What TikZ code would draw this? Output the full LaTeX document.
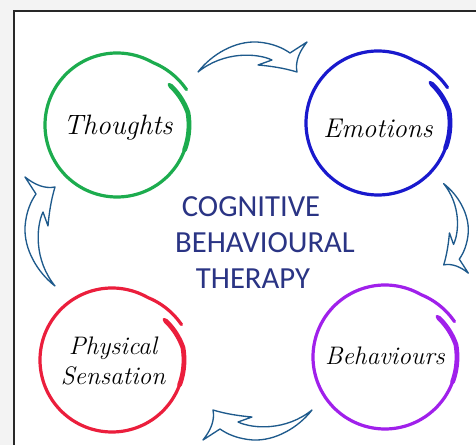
\documentclass[tikz,border=0pt]{standalone}
\usepackage{fontspec}
\newfontfamily\cbtsans{Carlito}
\definecolor{bggray}{RGB}{243,243,243}
\definecolor{framegray}{RGB}{40,40,40}
\definecolor{ringgreen}{RGB}{28,172,78}
\definecolor{ringblue}{RGB}{25,25,205}
\definecolor{ringred}{RGB}{235,30,60}
\definecolor{ringpurple}{RGB}{160,32,235}
\definecolor{arrowblue}{RGB}{30,90,140}
\definecolor{titlenavy}{RGB}{42,52,132}
\newcommand\brushring[3]{%
  \draw[#3, line width=2.4pt, line cap=round]
    plot[domain=38:-333, samples=220, smooth, variable=\t]
    ({#1+(72-6*max(0,(\t-10)/28)+6*max(0,(-300-\t)/33))*cos(\t)},
     {#2-(72-6*max(0,(\t-10)/28)+6*max(0,(-300-\t)/33))*sin(\t)});
  \draw[#3, line width=3.6pt, line cap=round]
    plot[domain=36:-20, samples=40, smooth, variable=\t]
    ({#1+(72-6*max(0,(\t-10)/28))*cos(\t)},
     {#2-(72-6*max(0,(\t-10)/28))*sin(\t)});
}
\newcommand\cbtarrow{%
  \draw[arrowline]
    (-54,15) .. controls (-40,-3) and (-17,-16) .. (5,-15)
    .. controls (20,-14) and (31,-9) .. (38,-4)
    -- (55,-15)
    .. controls (47,-5) and (43,5) .. (45,15)
    .. controls (32,11) and (18,9) .. (6,8)
    -- (20,3)
    .. controls (5,-4) and (-28,-6) .. (-54,15) -- cycle;
}
\begin{document}
\begin{tikzpicture}[x=0.75pt, y=-0.75pt,
  arrowline/.style={draw=arrowblue, fill=white, line width=1pt, line join=round},
  label/.style={font=\fontsize{19}{22}\selectfont\itshape, align=center, inner sep=0pt, text=black},
  cbt/.style={font=\cbtsans\fontsize{23}{27}\selectfont, text=titlenavy, inner sep=0pt}]
\useasboundingbox (0,0) rectangle (476,445);
\fill[bggray] (0,0) rectangle (476,445);
\fill[white] (14,11) rectangle (476,445);
\draw[framegray, line width=1.2pt] (14,445) -- (14,11) -- (476,11);

% rings
\brushring{117}{125}{ringgreen}
\brushring{378}{123}{ringblue}
\brushring{112}{360}{ringred}
\brushring{385}{357}{ringpurple}

% labels
\node[label, font=\fontsize{21}{25}\selectfont\itshape] (thoughts) at (118,128) {Thoughts};
\node[label, font=\fontsize{20.3}{24}\selectfont\itshape] (emotions) at (378,128) {Emotions};
\node[label] (physical) at (113,361) {Physical\\Sensation};
\node[label] (behaviours) at (385,356) {Behaviours};

% centre title
\node[cbt, anchor=base] (t1) at (251,217) {COGNITIVE};
\node[cbt, anchor=base] (t2) at (265,253) {BEHAVIOURAL};
\node[cbt, anchor=base] (t3) at (253,289) {THERAPY};

% arrows
\begin{scope}[shift={(252,57)}]\cbtarrow\end{scope}
\begin{scope}[shift={(456,228)}, rotate=-90, scale=0.82]\cbtarrow\end{scope}
\begin{scope}[shift={(258,425)}, rotate=180]\cbtarrow\end{scope}
\begin{scope}[shift={(40,232)}, rotate=90]\cbtarrow\end{scope}
\end{tikzpicture}
\end{document}
